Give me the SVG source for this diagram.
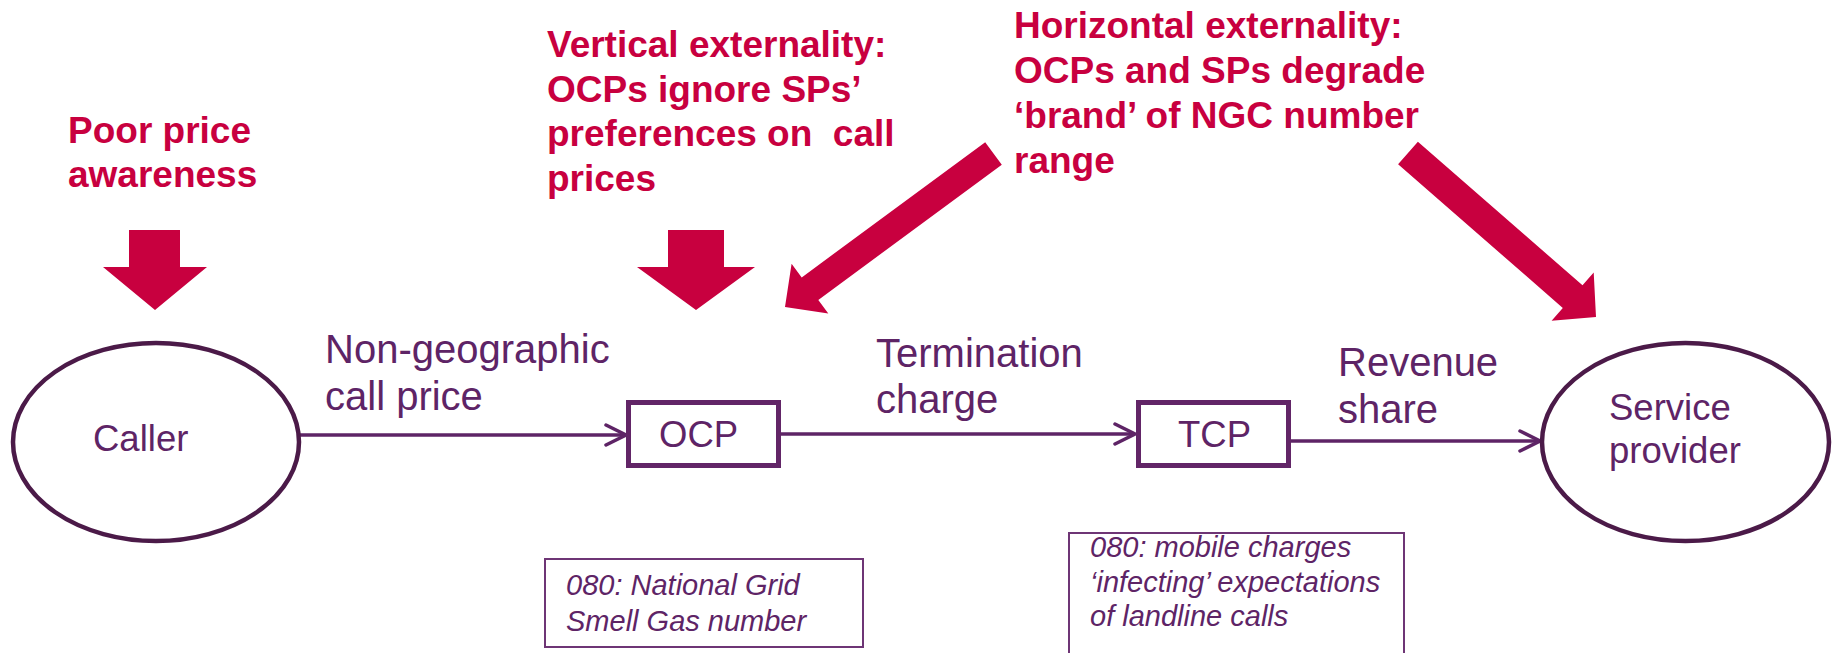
<svg xmlns="http://www.w3.org/2000/svg" width="1833" height="653" viewBox="0 0 1833 653">
  <style>
    .title { font-family: "Liberation Sans", Arial, sans-serif; font-weight: bold; font-size: 37px; fill: #C8003F; }
    .edge { font-family: "Liberation Sans", Arial, sans-serif; font-size: 40px; fill: #5E2466; }
    .node { font-family: "Liberation Sans", Arial, sans-serif; font-size: 36.5px; fill: #5E2466; }
    .note { font-family: "Liberation Sans", Arial, sans-serif; font-style: italic; font-size: 29px; fill: #5E2466; }
    .ell { fill: #FFFFFF; stroke: #4B1A48; stroke-width: 4.5; }
    .box { fill: #FFFFFF; stroke: #622567; stroke-width: 5; }
    .notebox { fill: #FFFFFF; stroke: #6E3575; stroke-width: 2; }
    .link { fill: none; stroke: #5E2466; stroke-width: 3.5; }
    .big { fill: #C8003F; }
  </style>
  <defs>
    <marker id="open" markerUnits="userSpaceOnUse" markerWidth="26" markerHeight="26" viewBox="-23 -13 26 26" refX="0" refY="0" orient="auto">
      <path d="M-20,-10 L0,0 L-20,10" fill="none" stroke="#5E2466" stroke-width="3.5" stroke-linecap="round" stroke-linejoin="miter"/>
    </marker>
  </defs>

  <!-- headline texts -->
  <g id="poor-price">
    <text class="title" x="68" y="143">Poor price</text>
    <text class="title" x="68" y="187">awareness</text>
    <polygon class="big" points="129,230 180,230 180,267 207,267 155,310 103,267 129,267"/>
  </g>
  <g id="vertical-externality">
    <text class="title" x="547" y="57">Vertical externality:</text>
    <text class="title" x="547" y="102">OCPs ignore SPs’</text>
    <text class="title" x="547" y="146" style="white-space:pre" xml:space="preserve">preferences on  call</text>
    <text class="title" x="547" y="191">prices</text>
    <polygon class="big" points="668,230 724,230 724,267 755,267 696,310 637,267 668,267"/>
  </g>
  <g id="horizontal-externality">
    <text class="title" x="1014" y="38">Horizontal externality:</text>
    <text class="title" x="1014" y="83">OCPs and SPs degrade</text>
    <text class="title" x="1014" y="128">‘brand’ of NGC number</text>
    <text class="title" x="1014" y="173">range</text>
    <!-- arrow toward OCP -->
    <polygon class="big" points="985.2,142.2 1001.8,164.8 818.3,299.9 828.3,313.6 785,307 791.6,263.7 801.7,277.4"/>
    <!-- arrow toward service provider -->
    <polygon class="big" points="1417.9,141.7 1398.1,164.3 1562.8,307.9 1551.6,320.7 1596,317 1593.7,272.5 1582.5,285.3"/>
  </g>

  <!-- connectors -->
  <g id="connectors">
    <line class="link" x1="299" y1="435" x2="626" y2="435" marker-end="url(#open)"/>
    <line class="link" x1="781" y1="434" x2="1135" y2="434" marker-end="url(#open)"/>
    <line class="link" x1="1291" y1="441" x2="1540" y2="441" marker-end="url(#open)"/>
    <text class="edge" x="325" y="363">Non-geographic</text>
    <text class="edge" x="325" y="410">call price</text>
    <text class="edge" x="876" y="367">Termination</text>
    <text class="edge" x="876" y="413">charge</text>
    <text class="edge" x="1338" y="376">Revenue</text>
    <text class="edge" x="1338" y="423">share</text>
  </g>

  <!-- nodes -->
  <g id="caller">
    <ellipse class="ell" cx="156" cy="442" rx="143" ry="99"/>
    <text class="node" x="93" y="451">Caller</text>
  </g>
  <g id="ocp">
    <rect class="box" x="628.5" y="402.5" width="150" height="63"/>
    <text class="node" x="659" y="447">OCP</text>
  </g>
  <g id="tcp">
    <rect class="box" x="1138.5" y="402.5" width="150" height="63"/>
    <text class="node" x="1178" y="447">TCP</text>
  </g>
  <g id="service-provider">
    <ellipse class="ell" cx="1685.5" cy="442" rx="143.5" ry="99"/>
    <text class="node" x="1609" y="420">Service</text>
    <text class="node" x="1609" y="463">provider</text>
  </g>

  <!-- example notes -->
  <g id="note-ocp">
    <rect class="notebox" x="545" y="559" width="318" height="88"/>
    <text class="note" x="566" y="595">080: National Grid</text>
    <text class="note" x="566" y="631">Smell Gas number</text>
  </g>
  <g id="note-tcp">
    <rect class="notebox" x="1069" y="533" width="335" height="140"/>
    <text class="note" x="1090" y="557">080: mobile charges</text>
    <text class="note" x="1090" y="592">‘infecting’ expectations</text>
    <text class="note" x="1090" y="626">of landline calls</text>
  </g>
</svg>
